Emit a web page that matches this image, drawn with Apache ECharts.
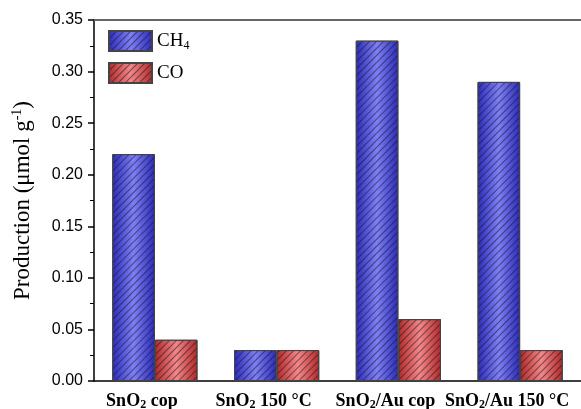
<!DOCTYPE html>
<html><head><meta charset="utf-8">
<script src="https://cdn.jsdelivr.net/npm/echarts@6/dist/echarts.min.js"></script>
<style>html,body{margin:0;padding:0;background:#fff}#c{width:581px;height:409px}</style>
</head><body><div id="c"></div>
<script>
var categories = ['SnO{s|2} cop', 'SnO{s|2} 150 °C', 'SnO{s|2}/Au cop', 'SnO{s|2}/Au 150 °C'];
var ch4Values = [0.22, 0.03, 0.33, 0.29];
var coValues = [0.04, 0.03, 0.06, 0.03];
var yTicks = {min: 0, max: 0.35, interval: 0.05};

var chart = echarts.init(document.getElementById('c'));
function grad(edge, mid) {
  return new echarts.graphic.LinearGradient(0, 0, 1, 0, [
    {offset: 0, color: edge}, {offset: 0.5, color: mid}, {offset: 1, color: edge}
  ]);
}
var decal = {symbol: 'rect', dashArrayX: [1, 0], dashArrayY: [1, 4], rotation: -Math.PI / 4, color: 'rgba(20,20,40,0.55)', symbolSize: 1};
var serif = '"Liberation Serif", "Times New Roman", serif';
chart.setOption({
  animation: false,
  grid: {left: 94, top: 20, right: 0, bottom: 28, outerBoundsMode: 'none', containLabel: false},
  legend: {
    left: 108, top: 30, padding: 0, orient: 'vertical', itemWidth: 43, itemHeight: 20, itemGap: 10,
    icon: 'rect',
    textStyle: {fontFamily: serif, fontSize: 19, color: '#000', rich: {s: {fontFamily: serif, fontSize: 12, padding: [10, 0, 0, 0]}}},
    formatter: function (n) { return n === 'CH4' ? 'CH{s|4}' : n; },
    data: ['CH4', 'CO']
  },
  xAxis: [{
    type: 'category', data: categories,
    axisLine: {lineStyle: {color: '#000', width: 1.5}},
    axisTick: {alignWithLabel: true, length: 7, lineStyle: {color: '#000', width: 1.5}},
    axisLabel: {interval: 0, margin: 10, padding: [0, 26, 0, 0], color: '#000', fontFamily: serif, fontWeight: 'bold', fontSize: 18, lineHeight: 20,
      rich: {s: {fontFamily: serif, fontWeight: 'bold', fontSize: 12, lineHeight: 20, verticalAlign: 'bottom', padding: [8, 0, 0, 0]}}}
  }, {
    type: 'category', position: 'top', data: categories,
    axisLine: {lineStyle: {color: '#666', width: 2}}, axisTick: {show: false}, axisLabel: {show: false}
  }],
  yAxis: {
    type: 'value', min: yTicks.min, max: yTicks.max, interval: yTicks.interval,
    name: 'Production (μmol g{p|-1})', nameLocation: 'middle', nameGap: 58, nameRotate: 90,
    nameTextStyle: {fontFamily: serif, fontSize: 23, color: '#000', rich: {p: {fontFamily: serif, fontSize: 14, padding: [0, 0, 12, 0]}}},
    axisLine: {show: true, lineStyle: {color: '#000', width: 1.5}},
    axisTick: {show: true, length: 6, lineStyle: {color: '#000', width: 1.5}},
    minorTick: {show: true, splitNumber: 2, length: 4, lineStyle: {color: '#000', width: 1}},
    splitLine: {show: false},
    axisLabel: {color: '#000', fontFamily: '"Liberation Sans", Arial, sans-serif', fontSize: 16, margin: 11,
      formatter: function (v) { return v.toFixed(2); }}
  },
  series: [{
    name: 'CH4', type: 'bar', data: ch4Values, barWidth: '35%', barGap: '0%',
    itemStyle: {color: grad('#2a2ab8', '#8080f4'), borderColor: '#444', borderWidth: 1, decal: decal}
  }, {
    name: 'CO', type: 'bar', data: coValues, barWidth: '35%',
    itemStyle: {color: grad('#b02828', '#f48888'), borderColor: '#444', borderWidth: 1, decal: decal}
  }]
});
</script></body></html>
